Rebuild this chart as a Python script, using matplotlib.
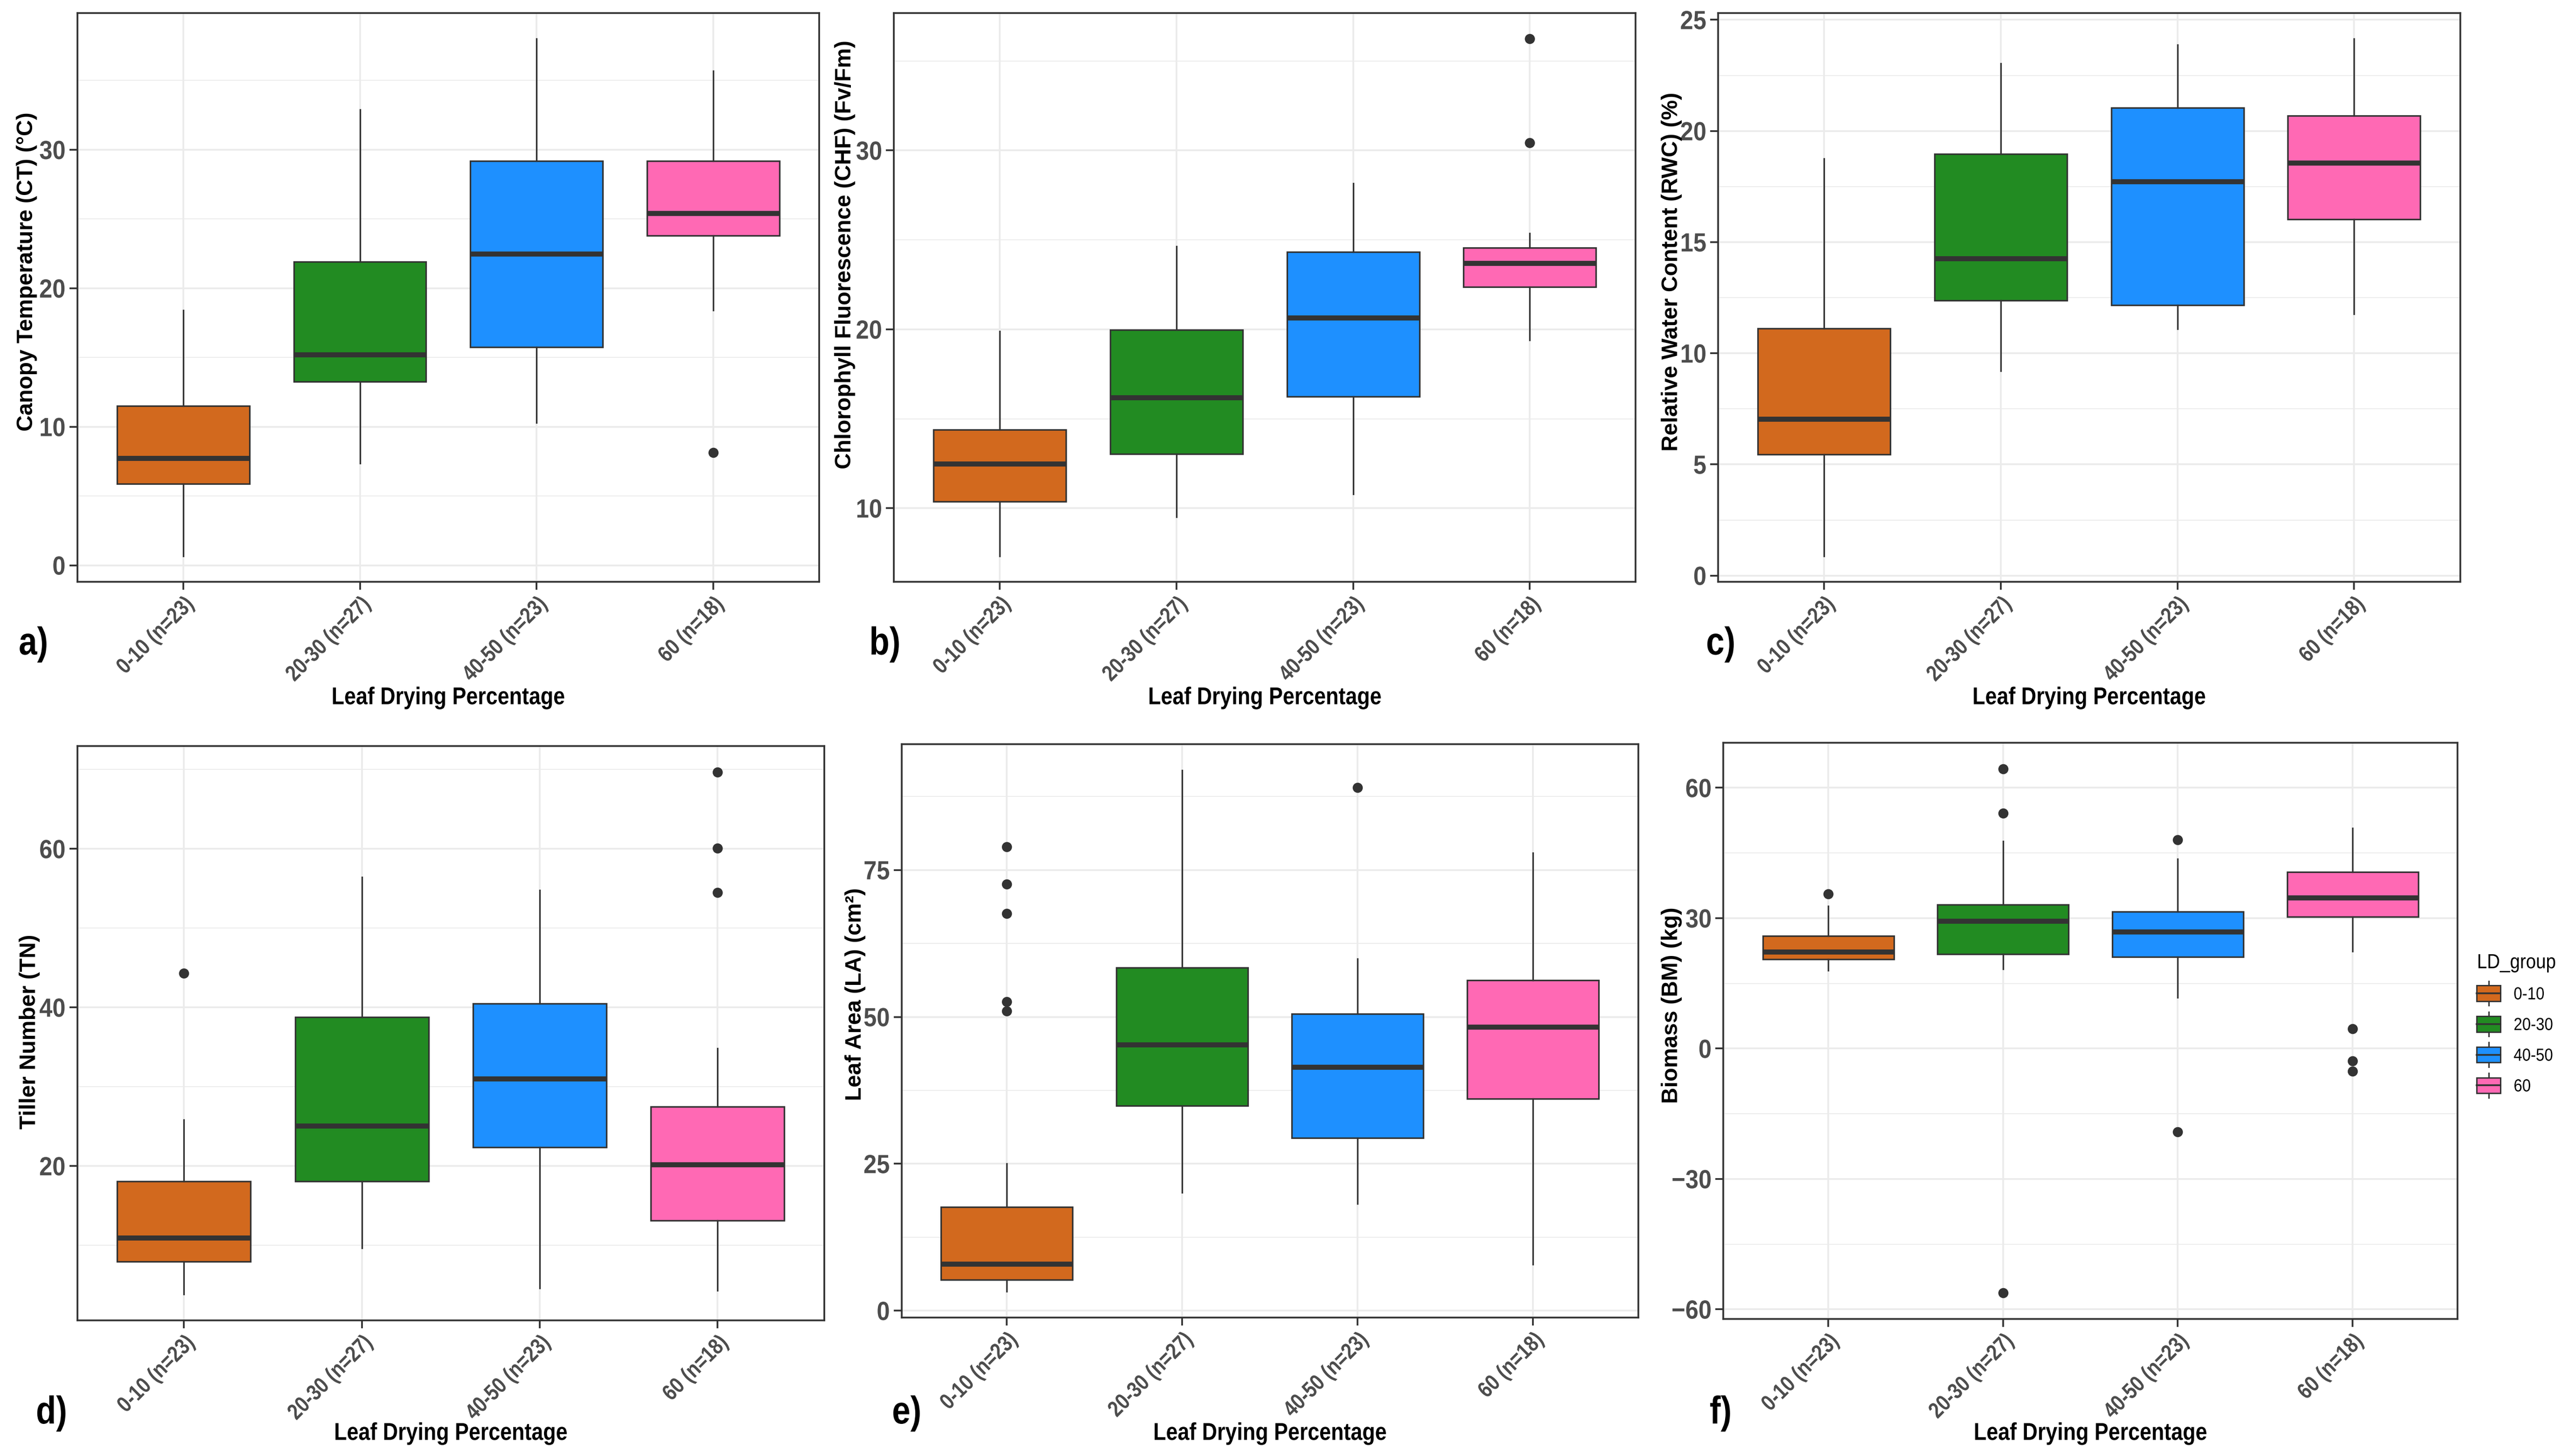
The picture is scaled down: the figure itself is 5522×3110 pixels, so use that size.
import matplotlib
matplotlib.use('Agg')
import matplotlib.pyplot as plt
from matplotlib.patches import Rectangle
from matplotlib.lines import Line2D
from matplotlib.legend_handler import HandlerBase
from matplotlib.ticker import MultipleLocator
from matplotlib.patheffects import AbstractPathEffect
from matplotlib.transforms import Affine2D

# ---------------- data ----------------
groups = ['0-10', '20-30', '40-50', '60']
counts = [23, 27, 23, 18]
colors = ['#D2691E', '#228B22', '#1E90FF', '#FF69B4']

# a) Canopy Temperature
ct_lo = [0.67, 7.35, 10.3, 18.4]
ct_q1 = [5.87, 13.26, 15.75, 23.8]
ct_med = [7.72, 15.2, 22.5, 25.4]
ct_q3 = [11.5, 21.9, 29.2, 29.2]
ct_hi = [18.4, 32.9, 38.0, 35.7]
ct_out = [[], [], [], [8.15]]

# b) Chlorophyll Fluorescence
chf_lo = [7.33, 9.51, 10.78, 19.39]
chf_q1 = [10.36, 13.03, 16.25, 22.37]
chf_med = [12.49, 16.2, 20.66, 23.70]
chf_q3 = [14.38, 19.96, 24.32, 24.55]
chf_hi = [19.88, 24.63, 28.16, 25.36]
chf_out = [[], [], [], [30.42, 36.23]]

# c) Relative Water Content
rwc_lo = [0.88, 9.21, 11.09, 11.77]
rwc_q1 = [5.45, 12.37, 12.16, 16.02]
rwc_med = [7.05, 14.26, 17.72, 18.56]
rwc_q3 = [11.12, 18.96, 21.04, 20.68]
rwc_hi = [18.75, 23.03, 23.87, 24.14]
rwc_out = [[], [], [], []]

# d) Tiller Number
tn_lo = [3.81, 9.66, 4.58, 4.28]
tn_q1 = [7.95, 18.05, 22.36, 13.14]
tn_med = [10.96, 25.08, 30.99, 20.18]
tn_q3 = [18.05, 38.76, 40.47, 27.5]
tn_hi = [25.85, 56.45, 54.8, 34.83]
tn_out = [[44.28], [], [], [69.7, 60.06, 54.5]]

# e) Leaf Area
la_lo = [3.27, 20.08, 18.17, 7.9]
la_q1 = [5.26, 34.9, 29.4, 36.1]
la_med = [7.97, 45.26, 41.5, 48.3]
la_q3 = [17.61, 58.4, 50.5, 56.2]
la_hi = [25.0, 91.95, 59.9, 77.9]
la_out = [[78.96, 72.6, 67.57, 52.6, 51.0], [], [89.0], []]

# f) Biomass
bm_lo = [17.99, 18.31, 11.74, 22.4]
bm_q1 = [20.58, 21.76, 21.1, 30.3]
bm_med = [22.3, 29.3, 26.9, 34.7]
bm_q3 = [25.96, 33.07, 31.5, 40.6]
bm_hi = [32.75, 47.7, 43.6, 50.7]
bm_out = [[35.55], [64.3, 54.2, -56.2], [48.0, -19.2], [4.5, -2.9, -5.2]]

xticklabels = [f'{g} (n={n})' for g, n in zip(groups, counts)]

# ---------------- fonts / helpers ----------------
SANS = 'Liberation Sans'
plt.rcParams['font.family'] = [SANS, 'DejaVu Sans']


class Condense(AbstractPathEffect):
    """Horizontally condense a text path (along its own baseline)."""
    def __init__(self, sx=0.85, anchor='center'):
        super().__init__()
        self.sx = sx
        self.anchor = anchor

    def draw_path(self, renderer, gc, tpath, affine, rgbFace=None):
        ext = tpath.get_extents()
        if self.anchor == 'center':
            cx = 0.5 * (ext.x0 + ext.x1)
        elif self.anchor == 'right':
            cx = ext.x1
        else:
            cx = ext.x0
        t = Affine2D().translate(-cx, 0).scale(self.sx, 1).translate(cx, 0)
        renderer.draw_path(gc, tpath, t + affine, rgbFace)


panels = [
    dict(lo=ct_lo, q1=ct_q1, med=ct_med, q3=ct_q3, hi=ct_hi, out=ct_out,
         ylabel='Canopy Temperature (CT) (°C)', step=10, tag='a)'),
    dict(lo=chf_lo, q1=chf_q1, med=chf_med, q3=chf_q3, hi=chf_hi, out=chf_out,
         ylabel='Chlorophyll Fluorescence (CHF) (Fv/Fm)', step=10, tag='b)'),
    dict(lo=rwc_lo, q1=rwc_q1, med=rwc_med, q3=rwc_q3, hi=rwc_hi, out=rwc_out,
         ylabel='Relative Water Content (RWC) (%)', step=5, tag='c)'),
    dict(lo=tn_lo, q1=tn_q1, med=tn_med, q3=tn_q3, hi=tn_hi, out=tn_out,
         ylabel='Tiller Number (TN)', step=20, tag='d)'),
    dict(lo=la_lo, q1=la_q1, med=la_med, q3=la_q3, hi=la_hi, out=la_out,
         ylabel='Leaf Area (LA) (cm²)', step=25, tag='e)'),
    dict(lo=bm_lo, q1=bm_q1, med=bm_med, q3=bm_q3, hi=bm_hi, out=bm_out,
         ylabel='Biomass (BM) (kg)', step=30, tag='f)'),
]

# layout (figure fractions)
rects = [
    (0.030, 0.599, 0.288, 0.392),
    (0.347, 0.599, 0.288, 0.392),
    (0.667, 0.599, 0.288, 0.392),
    (0.030, 0.090, 0.290, 0.396),
    (0.350, 0.092, 0.286, 0.395),
    (0.669, 0.091, 0.285, 0.397),
]
ylabel_xy = [(0.0105, 0.8129), (0.328, 0.8244), (0.649, 0.8129),
             (0.0115, 0.2891), (0.332, 0.3148), (0.649, 0.3071)]
tag_pos = [(0.013, 0.556), (0.3435, 0.556), (0.668, 0.556),
           (0.020, 0.026), (0.352, 0.026), (0.668, 0.026)]
xlabel_y = [0.519, 0.519, 0.519, 0.012, 0.012, 0.012]

DARK = '#333333'
fig = plt.figure(figsize=(5522 / 300, 3110 / 300), dpi=300)

for i, p in enumerate(panels):
    ax = fig.add_axes(rects[i])
    stats = []
    for k in range(len(groups)):
        stats.append(dict(whislo=p['lo'][k], q1=p['q1'][k], med=p['med'][k],
                          q3=p['q3'][k], whishi=p['hi'][k], fliers=p['out'][k],
                          label=xticklabels[k]))
    pos = list(range(1, len(groups) + 1))
    bp = ax.bxp(stats, positions=pos, widths=0.75, patch_artist=True,
                showcaps=False, zorder=3,
                boxprops=dict(edgecolor=DARK, linewidth=0.8),
                whiskerprops=dict(color=DARK, linewidth=0.8),
                medianprops=dict(color=DARK, linewidth=2.6, solid_capstyle='butt'),
                flierprops=dict(marker='o', markerfacecolor=DARK, markeredgecolor=DARK,
                                markersize=4.2, linestyle='none'))
    for patch, c in zip(bp['boxes'], colors):
        patch.set_facecolor(c)

    # y limits with 5% expansion as in ggplot
    allv = p['lo'] + p['hi'] + [v for o in p['out'] for v in o]
    lo, hi = min(allv), max(allv)
    pad = 0.05 * (hi - lo)
    ax.set_ylim(lo - pad, hi + pad)
    ax.set_xlim(0.4, len(groups) + 0.6)

    ax.yaxis.set_major_locator(MultipleLocator(p['step']))
    ax.yaxis.set_minor_locator(MultipleLocator(p['step'] / 2))
    ax.grid(True, which='major', color='#EBEBEB', linewidth=0.9, zorder=0)
    ax.grid(True, which='minor', axis='y', color='#EBEBEB', linewidth=0.45, zorder=0)
    ax.set_axisbelow(True)

    for s in ax.spines.values():
        s.set_color(DARK)
        s.set_linewidth(0.9)
    ax.tick_params(which='major', color=DARK, length=4, width=0.9, labelcolor='#4D4D4D', pad=2)
    ax.tick_params(which='minor', length=0)

    ax.set_xticks(pos)
    ax.set_xticklabels(xticklabels, rotation=45, ha='right', va='top',
                       rotation_mode='anchor', fontsize=11.5, fontweight='bold')
    for lab in ax.get_xticklabels():
        lab.set_path_effects([Condense(0.84, 'right')])
    for lab in ax.get_yticklabels():
        lab.set_fontsize(13.5)
        lab.set_fontweight('bold')
        lab.set_path_effects([Condense(0.9, 'right')])

    l, b, w, h = rects[i]
    ax.set_ylabel(p['ylabel'], fontsize=11.5, fontweight='bold', color='black')
    ax.yaxis.set_label_coords((ylabel_xy[i][0] - l) / w, (ylabel_xy[i][1] - b) / h)
    ax.yaxis.label.set_va('center')

    ax.set_xlabel('Leaf Drying Percentage', fontsize=12.5, fontweight='bold', color='black')
    ax.xaxis.set_label_coords(0.5, (xlabel_y[i] - b) / h)
    ax.xaxis.label.set_va('center')
    ax.xaxis.label.set_path_effects([Condense(0.86, 'center')])

    fig.text(tag_pos[i][0], tag_pos[i][1], p['tag'], fontsize=20, fontweight='bold',
             ha='center', va='center', path_effects=[Condense(0.85, 'center')])


# legend with boxplot-like keys
class BoxKeyHandler(HandlerBase):
    def create_artists(self, legend, orig_handle, xdescent, ydescent, width, height,
                       fontsize, trans):
        x0, y0 = -xdescent, -ydescent
        xc = x0 + width / 2
        wl = Line2D([xc, xc], [y0 - 0.28 * height, y0 + 1.28 * height],
                    color=DARK, linewidth=0.7, transform=trans)
        r = Rectangle((x0, y0), width, height, facecolor=orig_handle.get_facecolor(),
                      edgecolor=DARK, linewidth=0.7, transform=trans)
        ml = Line2D([x0, x0 + width], [y0 + height / 2] * 2, color=DARK,
                    linewidth=0.9, transform=trans)
        return [wl, r, ml]


handles = [Rectangle((0, 0), 1, 1, facecolor=c) for c in colors]
leg = fig.legend(handles, groups, title='LD_group', loc='upper left',
                 bbox_to_anchor=(0.9615, 0.343), frameon=False,
                 handler_map={Rectangle: BoxKeyHandler()},
                 prop={'size': 9},
                 title_fontproperties={'size': 10.5},
                 handlelength=1.35, handleheight=1.0, labelspacing=0.75,
                 handletextpad=0.75, borderaxespad=0, borderpad=0, alignment='left')
for t in leg.get_texts():
    t.set_path_effects([Condense(0.88, 'left')])
leg.get_title().set_path_effects([Condense(0.88, 'left')])

fig.savefig('out.png', dpi=300, facecolor='white')
